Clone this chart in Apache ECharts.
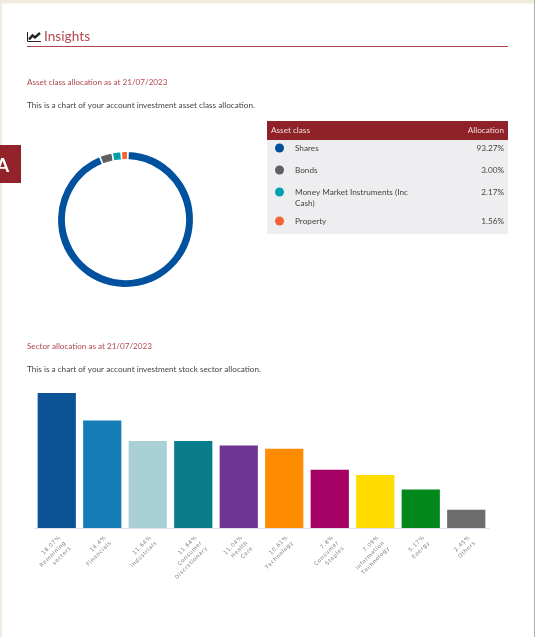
<!DOCTYPE html>
<html>
<head>
<meta charset="utf-8">
<style>
html,body{margin:0;padding:0;background:#fff;}
#chart{width:535px;height:637px;}
</style>
<script src="https://cdn.jsdelivr.net/npm/echarts@6/dist/echarts.min.js"></script>
</head>
<body>
<div id="chart"></div>
<script>
// Asset class allocation
const assetClasses = ['Shares', 'Bonds', 'Money Market Instruments (Inc\nCash)', 'Property'];
const assetValues = [93.27, 3.00, 2.17, 1.56];
const assetLabels = ['93.27%', '3.00%', '2.17%', '1.56%'];
const assetColors = ['#00529f', '#5f6062', '#00a0ae', '#f26432'];

// Sector allocation
const sectorNames = ['Remaining\nsectors', 'Financials', 'Industrials', 'Consumer\nDiscretionary', 'Health\nCare',
  'Technology', 'Consumer\nStaples', 'Information\nTechnology', 'Energy', 'Others'];
const sectorValues = [18.07, 14.4, 11.64, 11.64, 11.04, 10.61, 7.8, 7.09, 5.17, 2.45];
const sectorColors = ['#0b5394', '#147db6', '#a9d1d5', '#0a7d8c', '#6e3592', '#ff8c00', '#a50064', '#ffdc00', '#00891a', '#6d6d6d'];

const bodyFont = 'Lato, sans-serif';
const red = '#b0464d';
const dark = '#444444';

function text(x, y, str, size, fill, align) {
  return {type: 'text', x: x, y: y, style: {text: str, fontFamily: bodyFont, fontSize: size, fill: fill, align: align || 'left', verticalAlign: 'middle', lineHeight: 11}};
}
function rect(x, y, w, h, fill) {
  return {type: 'rect', shape: {x: x, y: y, width: w, height: h}, style: {fill: fill}};
}
// Canvas text has no letter spacing, so tracked labels get hair spaces between glyphs
function tracked(str) {
  return str.split('\n').map(function (line) { return line.split('').join('\u200a'); }).join('\n');
}

// Page frame, headings and the trend icon
const pageMarks = [
  rect(0, 0, 535, 3.5, '#f1ebdf'),
  rect(0, 0, 2, 637, '#f1ebdf'),
  rect(534, 0, 1, 637, '#b5aea6'),
  text(44, 37, 'Insights', 13.7, red),
  rect(27, 46, 481, 1, red),
  {type: 'polyline', shape: {points: [[27.5, 32], [27.5, 41.5], [41, 41.5]]}, style: {stroke: '#222', lineWidth: 1, fill: null}},
  {type: 'polyline', shape: {points: [[29, 39.5], [32.5, 35.5], [35, 37.5], [40, 33]]}, style: {stroke: '#222', lineWidth: 2.4, fill: null}},
  text(27, 82.5, 'Asset class allocation as at 21/07/2023', 8.1, red),
  text(27, 105.5, 'This is a chart of your account investment asset class allocation.', 8.2, dark),
  text(27, 346.5, 'Sector allocation as at 21/07/2023', 8.1, red),
  text(27, 369.5, 'This is a chart of your account investment stock sector allocation.', 8.2, dark),
  rect(0, 145, 21, 38, '#93222a'),
  {type: 'text', x: 2.5, y: 166, style: {text: 'A', fontFamily: bodyFont, fontWeight: 'bold', fontSize: 19, fill: '#fff', align: 'center', verticalAlign: 'middle'}}
];

// Allocation table, one row per asset class
const rowCentres = [148.5, 170.5, 197.5, 221.5];
const markCentres = [148, 170, 192, 221];
const tableMarks = [
  rect(267, 121, 241, 19, '#8f2128'),
  rect(267, 140, 241, 94, '#eeeef0'),
  text(271, 130.5, 'Asset class', 8.2, '#f0dcdc'),
  text(504, 130.5, 'Allocation', 8.2, '#f0dcdc', 'right')
];
assetClasses.forEach(function (name, i) {
  tableMarks.push({type: 'circle', shape: {cx: 279.5, cy: markCentres[i], r: 4.5}, style: {fill: assetColors[i]}});
  tableMarks.push(text(295, rowCentres[i], name, 8.2, dark));
  tableMarks.push(text(504, markCentres[i] + 0.5, assetLabels[i], 8.2, dark, 'right'));
});

const chart = echarts.init(document.getElementById('chart'));
chart.setOption({
  animation: false,
  backgroundColor: '#fff',
  graphic: {elements: pageMarks.concat(tableMarks)},
  grid: {left: 34, top: 385, width: 455, height: 143},
  xAxis: {
    type: 'category',
    data: sectorNames.map(function (n, i) { return sectorValues[i] + '%\n' + n; }),
    axisTick: {show: false},
    axisLine: {lineStyle: {color: '#dfe3f0', width: 1}},
    axisLabel: {
      interval: 0,
      rotate: 45,
      formatter: tracked,
      fontFamily: '"DejaVu Sans", sans-serif',
      fontSize: 5.5,
      color: '#808080',
      lineHeight: 7.5,
      margin: 6.5,
      align: 'right',
      verticalAlign: 'top'
    }
  },
  yAxis: {type: 'value', min: 0, max: 19.15, show: false, splitLine: {show: false}},
  series: [
    {
      type: 'pie',
      center: [125.5, 219.5],
      radius: [59.7, 68.2],
      startAngle: 88,
      silent: true,
      label: {show: false},
      labelLine: {show: false},
      itemStyle: {borderColor: '#fff', borderWidth: 1.5},
      data: assetClasses.map(function (n, i) {
        return {name: n, value: assetValues[i], itemStyle: {color: assetColors[i]}};
      })
    },
    {
      type: 'bar',
      barCategoryGap: '16%',
      silent: true,
      data: sectorValues.map(function (v, i) {
        return {value: v, itemStyle: {color: sectorColors[i]}};
      })
    }
  ]
});
</script>
</body>
</html>
